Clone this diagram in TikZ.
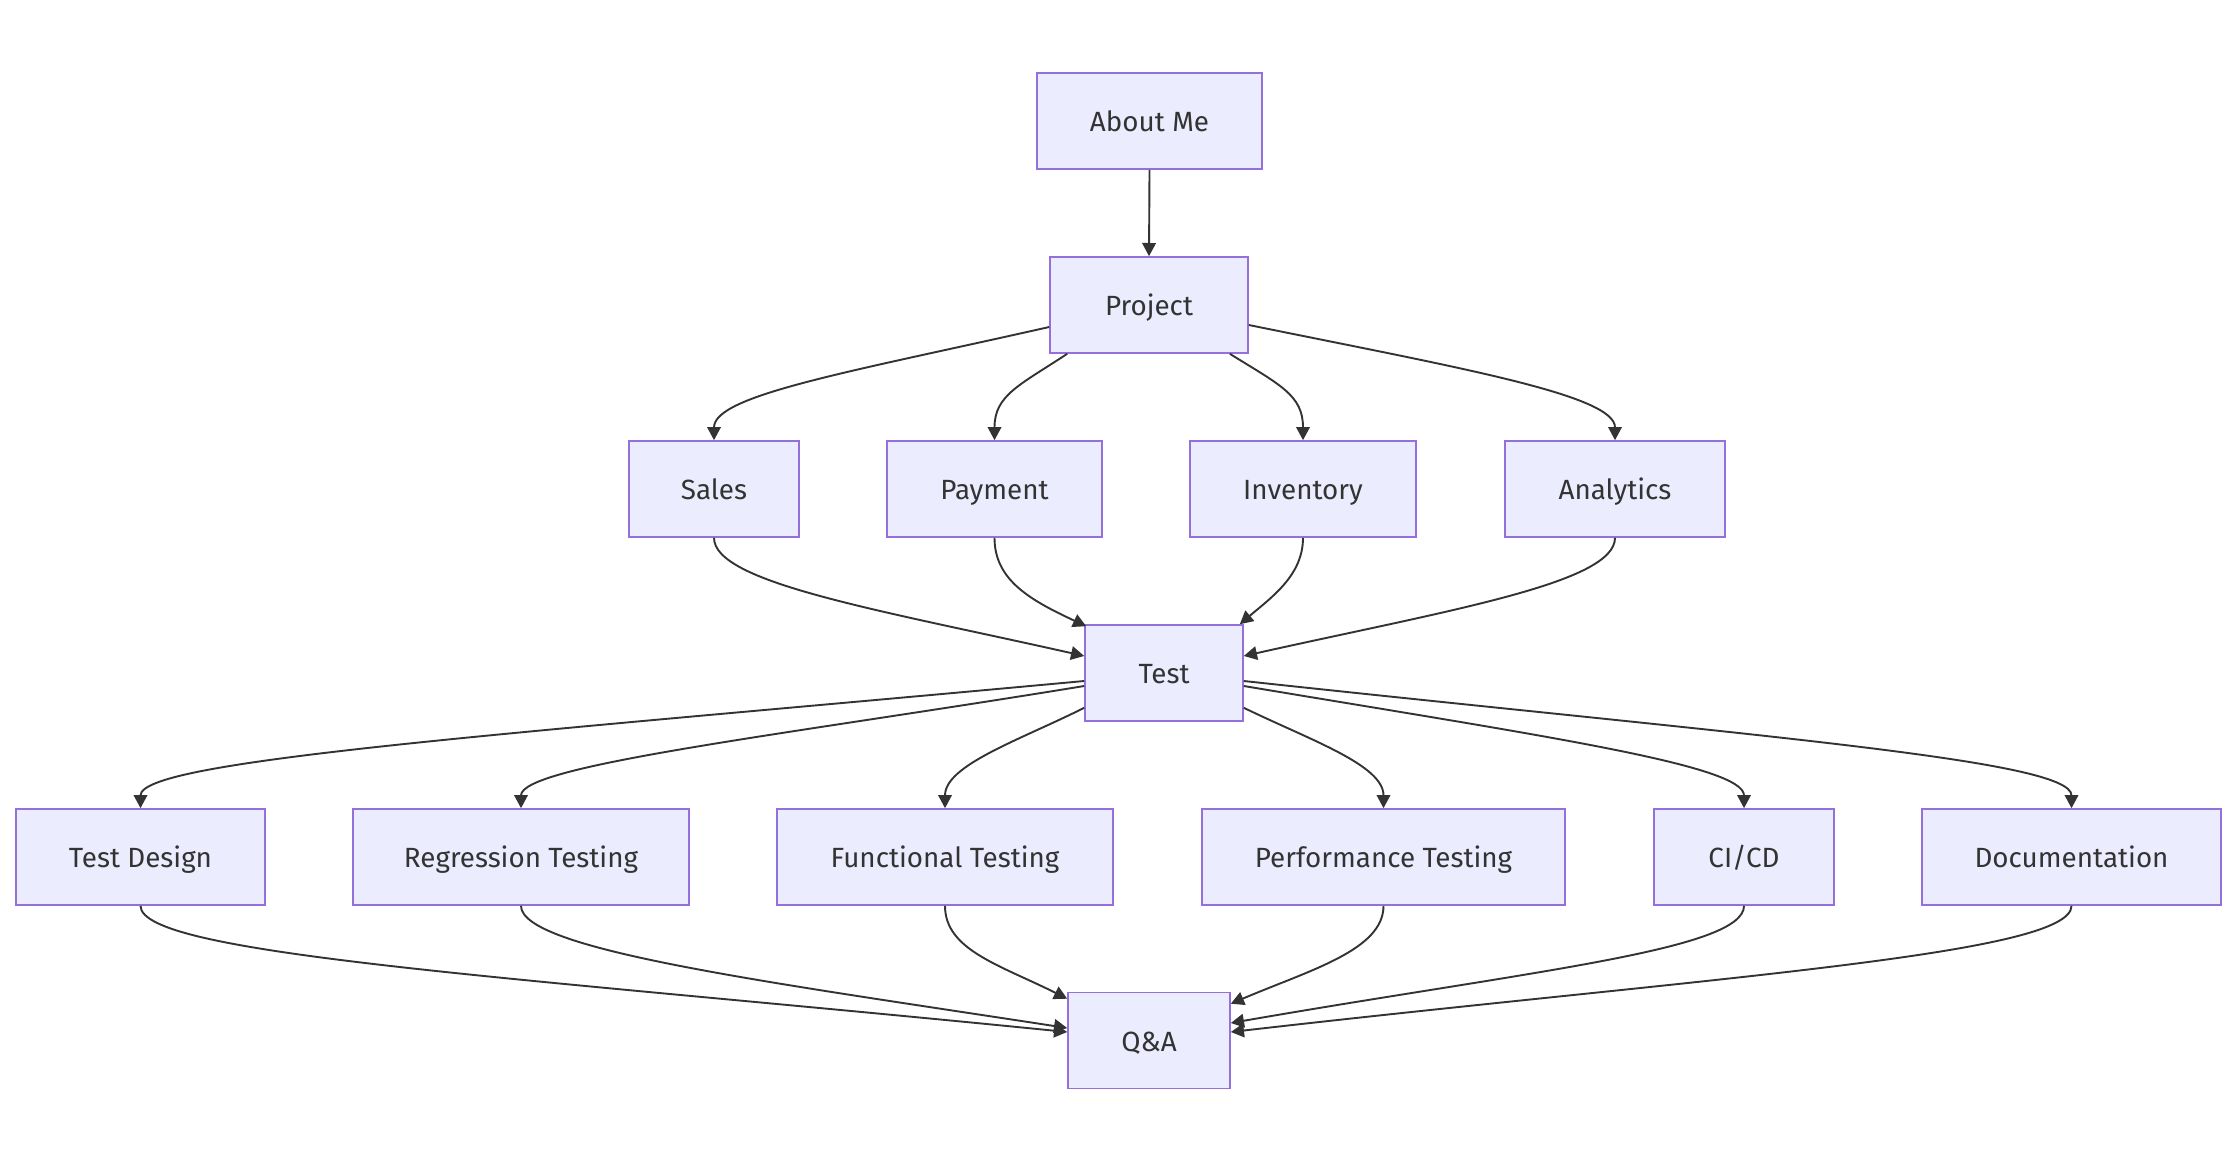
\documentclass[tikz,border=0pt]{standalone}
\usepackage{fontspec}
\setmainfont{Fira Sans}
\usetikzlibrary{arrows.meta,calc}
\definecolor{boxfill}{HTML}{ECECFF}
\definecolor{boxline}{HTML}{9370DB}
\definecolor{edgec}{HTML}{333333}
\definecolor{textc}{HTML}{333333}
\tikzset{
  box/.style={draw=boxline, fill=boxfill, line width=0.8pt, minimum height=48pt,
    inner sep=0pt, text height=12.2pt, text depth=1.4pt, text=textc,
    font=\fontsize{13.9pt}{16pt}\selectfont},
  link/.style={draw=edgec, line width=0.95pt,
    -{Triangle[length=6.6pt,width=6.8pt]}},
}
\begin{document}
\begin{tikzpicture}[x=0.5pt,y=-0.5pt]
\useasboundingbox (0,0) rectangle (2236,1161);
\fill[white] (0,0) rectangle (2236,1161);
% nodes
\node[box, minimum width=112.5pt] (about) at (1149.5,121) {About Me};
\node[box, minimum width=99pt] (project) at (1149,305) {Project};
\node[box, minimum width=85pt] (sales) at (714,489) {Sales};
\node[box, minimum width=107.5pt] (payment) at (994.5,489) {Payment};
\node[box, minimum width=113pt] (inventory) at (1303,489) {Inventory};
\node[box, minimum width=110pt] (analytics) at (1615,489) {Analytics};
\node[box, minimum width=79pt] (test) at (1164,673) {Test};
\node[box, minimum width=124.5pt] (tdesign) at (140.5,857) {Test Design};
\node[box, minimum width=168pt] (regr) at (521,857) {Regression Testing};
\node[box, minimum width=168pt] (func) at (945,857) {Functional Testing};
\node[box, minimum width=181.5pt] (perf) at (1383.5,857) {Performance Testing};
\node[box, minimum width=90pt] (cicd) at (1744,857) {CI/CD};
\node[box, minimum width=149.5pt] (docs) at (2071.5,857) {Documentation};
\node[box, minimum width=81pt] (qa) at (1149,1040.5) {Q\&A};
% edges
\draw[link] (about.south) -- (project.north);
\draw[link] ($(project.west)+(0,22)$) .. controls (850,372) and (714,395) .. (sales.north);
\draw[link] ($(project.south west)+(18,0)$) .. controls (1020,385) and (994.5,395) .. (payment.north);
\draw[link] ($(project.south east)+(-19,0)$) .. controls (1280,385) and (1303,395) .. (inventory.north);
\draw[link] ($(project.east)+(0,20)$) .. controls (1460,368) and (1615,395) .. (analytics.north);
\draw[link] (sales.south) .. controls (714,583) and (880,610) .. ($(test.west)+(0,-17)$);
\draw[link] (payment.south) .. controls (994.5,580) and (1030,600) .. ($(test.north west)+(2,2)$);
\draw[link] (inventory.south) .. controls (1303,575) and (1272,597) .. ($(test.north east)+(-4,0)$);
\draw[link] (analytics.south) .. controls (1615,583) and (1450,610) .. ($(test.east)+(0,-17)$);
\draw[link] ($(test.west)+(0,8)$) .. controls (500,735) and (140.5,760) .. (tdesign.north);
\draw[link] ($(test.west)+(0,13)$) .. controls (785,735) and (521,765) .. (regr.north);
\draw[link] ($(test.south west)+(0,-14)$) .. controls (1020,740) and (945,765) .. (func.north);
\draw[link] ($(test.south east)+(0,-14)$) .. controls (1310,740) and (1383.5,765) .. (perf.north);
\draw[link] ($(test.east)+(0,13)$) .. controls (1543,736) and (1744,765) .. (cicd.north);
\draw[link] ($(test.east)+(0,8)$) .. controls (1763,737) and (2071.5,760) .. (docs.north);
\draw[link] (tdesign.south) .. controls (140.5,955) and (508,976) .. ($(qa.west)+(0,-8.5)$);
\draw[link] (regr.south) .. controls (521,950) and (768,982) .. ($(qa.west)+(0,-12.5)$);
\draw[link] (func.south) .. controls (945,950) and (1000,965) .. ($(qa.north west)+(0,7)$);
\draw[link] (perf.south) .. controls (1383.5,950) and (1310,970) .. ($(qa.north east)+(0,12)$);
\draw[link] (cicd.south) .. controls (1744,950) and (1530,971) .. ($(qa.east)+(0,-17.5)$);
\draw[link] (docs.south) .. controls (2071.5,955) and (1710,977) .. ($(qa.east)+(0,-8.5)$);
\end{tikzpicture}
\end{document}
